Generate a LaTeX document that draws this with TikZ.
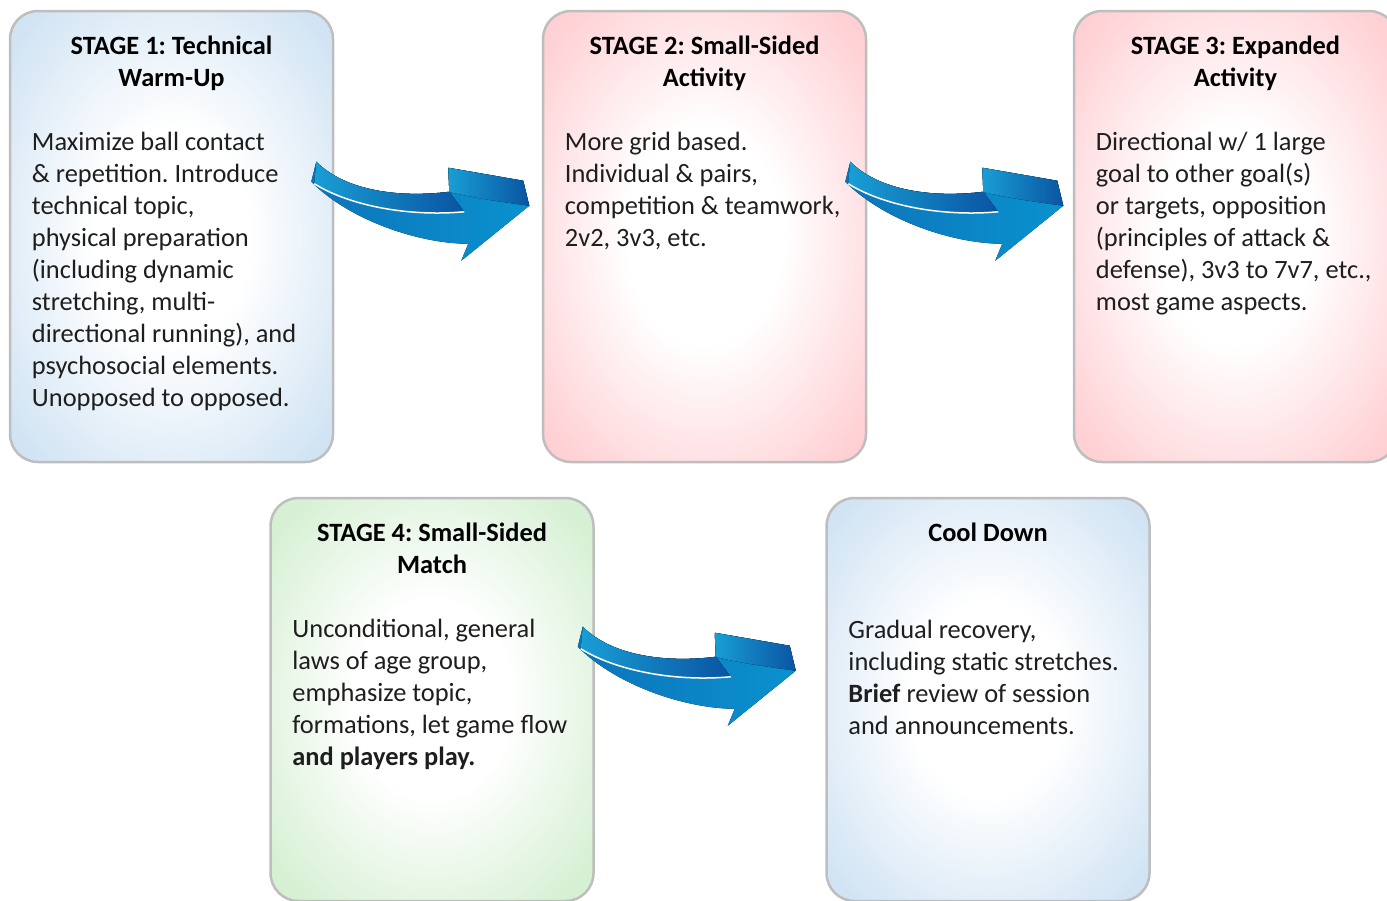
\documentclass[tikz,border=0pt]{standalone}
\usepackage{fontspec}
\setmainfont{Carlito}
\usetikzlibrary{shapes,arrows,positioning,calc}

\definecolor{edgegray}{RGB}{190,190,190}
\definecolor{stageblue}{RGB}{186,214,238}
\definecolor{stagepink}{RGB}{255,184,190}
\definecolor{stagegreen}{RGB}{192,232,188}
\definecolor{arrowcyan}{RGB}{24,158,212}
\definecolor{arrowmid}{RGB}{12,116,186}
\definecolor{arrowdark}{RGB}{10,84,162}
\definecolor{arrowlight}{RGB}{10,146,206}
\definecolor{textgray}{RGB}{30,30,30}

% soft glow: white middle, coloured rim
\pgfdeclareradialshading{blueglow}{\pgfpoint{0bp}{0bp}}{color(0bp)=(white); color(12bp)=(white);
  color(32bp)=(stageblue!65!white); color(50bp)=(stageblue)}
\pgfdeclareradialshading{pinkglow}{\pgfpoint{0bp}{0bp}}{color(0bp)=(white); color(12bp)=(white);
  color(32bp)=(stagepink!65!white); color(50bp)=(stagepink)}
\pgfdeclareradialshading{greenglow}{\pgfpoint{0bp}{0bp}}{color(0bp)=(white); color(12bp)=(white);
  color(32bp)=(stagegreen!65!white); color(50bp)=(stagegreen)}

\tikzstyle{stagebox} = [rectangle, draw=edgegray, line width=2.5pt, rounded corners=28pt,
    minimum width=323pt, inner sep=0pt]
\tikzstyle{stagetitle} = [anchor=north, inner sep=0pt, align=center, text=black,
    font=\fontsize{26.4}{32}\selectfont\bfseries]
\tikzstyle{stagetext} = [anchor=north west, inner sep=0pt, align=left, text=textgray,
    font=\fontsize{26.4}{32}\selectfont]

% curved 3d arrow, #1 is the top left corner
\newcommand{\swooparrow}[1]{
  \begin{scope}[shift={#1}]
    \fill [left color=arrowmid, right color=arrowlight]
      (5,0) .. controls (35,30) and (90,36) .. (138,30) -- (137,6) -- (212,19)
      -- (218,44) -- (150,99) -- (157,82) .. controls (110,82) and (40,60) .. (0,20) -- cycle;
    \fill [left color=arrowcyan, right color=arrowdark]
      (5,0) .. controls (35,30) and (90,36) .. (138,30) -- (153,50)
      .. controls (100,55) and (40,45) .. (3,22) -- cycle;
    \fill [left color=arrowcyan, right color=arrowdark]
      (137,6) -- (212,19) -- (218,44) .. controls (190,40) and (160,36) .. (138,30) -- cycle;
    \draw [white, line width=1.5pt] (3,22) .. controls (40,45) and (100,55) .. (153,50);
  \end{scope}
}

\begin{document}
\frenchspacing
\begin{tikzpicture}[x=1pt, y=-1pt]

    \useasboundingbox (0,0) rectangle (1387,900);

    % Place nodes
    \node [stagebox, shading=blueglow, minimum height=451pt] (s1) at (171.5,236.5) {};
    \node [stagebox, shading=pinkglow, minimum height=451pt] (s2) at (704.5,236.5) {};
    \node [stagebox, shading=pinkglow, minimum height=451pt] (s3) at (1235.5,236.5) {};
    \node [stagebox, shading=greenglow, minimum height=403pt] (s4) at (432,699.5) {};
    \node [stagebox, shading=blueglow, minimum height=403pt] (cool) at (988,699.5) {};

    % Titles
    \node [stagetitle, below=26pt of s1.north] (t1) {STAGE 1: Technical\\Warm-Up};
    \node [stagetitle, below=26pt of s2.north] (t2) {STAGE 2: Small-Sided\\Activity};
    \node [stagetitle, below=26pt of s3.north] (t3) {STAGE 3: Expanded\\Activity};
    \node [stagetitle, below=26pt of s4.north] (t4) {STAGE 4: Small-Sided\\Match};
    \node [stagetitle, below=26pt of cool.north] (t5) {Cool Down};

    % Texts
    \node [stagetext, below right=122pt and 23pt of s1.north west] (b1)
      {Maximize ball contact\\\& repetition. Introduce\\technical topic,\\physical preparation\\(including dynamic\\stretching, multi-\\directional running), and\\psychosocial elements.\\Unopposed to opposed.};
    \node [stagetext, below right=122pt and 23pt of s2.north west] (b2)
      {More grid based.\\Individual \& pairs,\\competition \& teamwork,\\2v2, 3v3, etc.};
    \node [stagetext, below right=122pt and 23pt of s3.north west] (b3)
      {Directional w/ 1 large\\goal to other goal(s)\\or targets, opposition\\(principles of attack \&\\defense), 3v3 to 7v7, etc.,\\most game aspects.};
    \node [stagetext, below right=122pt and 23pt of s4.north west] (b4)
      {Unconditional, general\\laws of age group,\\emphasize topic,\\formations, let game flow\\\textbf{and players play.}};
    \node [stagetext, below right=123pt and 23pt of cool.north west] (b5)
      {Gradual recovery,\\including static stretches.\\\textbf{Brief} review of session\\and announcements.};

    % Draw arrows
    \swooparrow{($(s1.north east)+(-23,152)$)}
    \swooparrow{($(s2.north east)+(-22,152)$)}
    \swooparrow{($(s4.north east)+(-17,130)$)}

\end{tikzpicture}
\end{document}
